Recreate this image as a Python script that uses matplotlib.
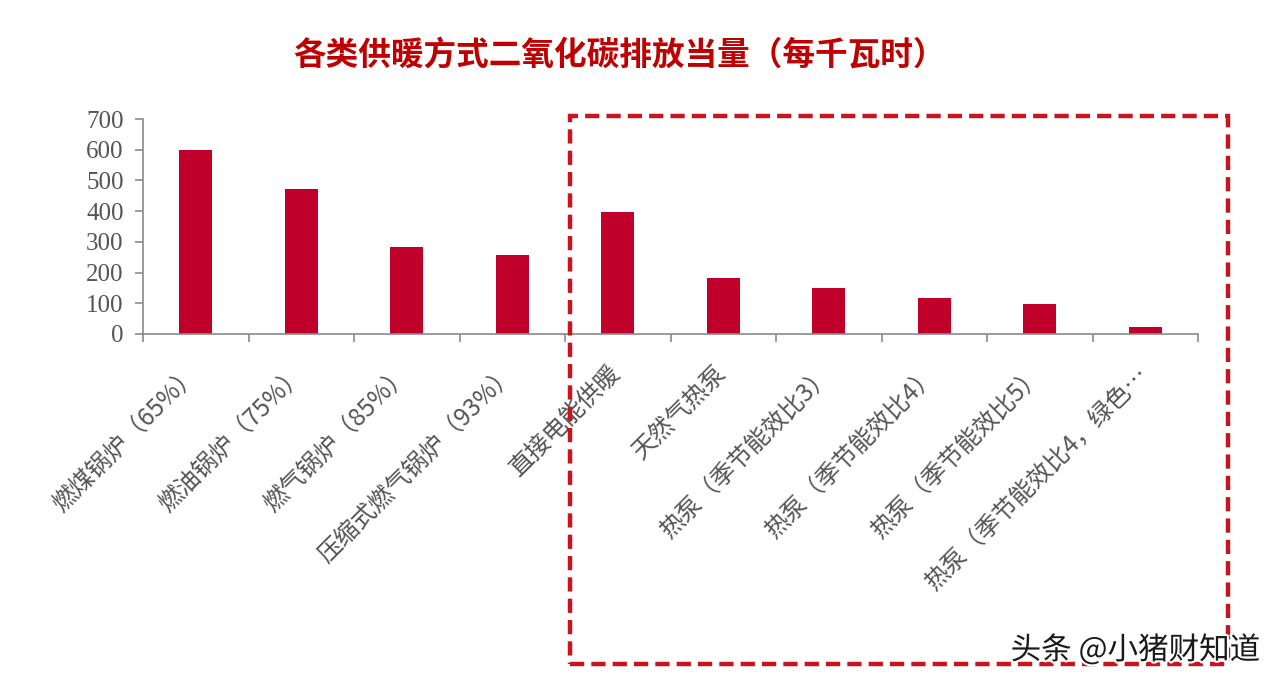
import numpy as np
import matplotlib.pyplot as plt
from matplotlib.patches import Rectangle
import matplotlib.patheffects as pe

plt.rcParams['font.family'] = ['Noto Sans CJK SC', 'DejaVu Sans']

title = '各类供暖方式二氧化碳排放当量（每千瓦时）'
categories = ['燃煤锅炉（65%）', '燃油锅炉（75%）', '燃气锅炉（85%）', '压缩式燃气锅炉（93%）',
              '直接电能供暖', '天然气热泵', '热泵（季节能效比3）', '热泵（季节能效比4）',
              '热泵（季节能效比5）', '热泵（季节能效比4，绿色…']
values = [600, 473, 283, 257, 398, 183, 151, 118, 98, 22]
yticks = [0, 100, 200, 300, 400, 500, 600, 700]
watermark = '头条 @小猪财知道'

bar_color = '#c0002a'
axis_color = '#8a8a8a'
text_color = '#555555'

fig = plt.figure(figsize=(12.8, 6.84), dpi=100)
ax = fig.add_axes([143 / 1280, 350 / 684, 1055 / 1280, 215 / 684])

x = np.arange(len(categories))
ax.bar(x, values, width=0.31, color=bar_color, zorder=2)
ax.set_xlim(-0.5, len(categories) - 0.5)
ax.set_ylim(0, 700)

for side in ['top', 'right']:
    ax.spines[side].set_visible(False)
for side in ['left', 'bottom']:
    ax.spines[side].set_color(axis_color)
    ax.spines[side].set_linewidth(1.2)

ax.set_yticks(yticks)
ax.set_yticklabels([str(v) for v in yticks], family='Liberation Serif', fontsize=18, color=text_color)
ax.tick_params(axis='y', direction='out', length=6, width=1.2, color=axis_color, pad=8)

ax.set_xticks(x)
ax.set_xticklabels(categories, rotation=45, ha='right', va='center', rotation_mode='anchor',
                   fontsize=17.5, color=text_color)
ax.tick_params(axis='x', which='major', length=0, pad=26)
ax.set_xticks(np.arange(-0.5, len(categories), 1), minor=True)
ax.tick_params(axis='x', which='minor', direction='out', length=6, width=1.2, color=axis_color)

fig.text(620 / 1280, 1 - 55 / 684, title, ha='center', va='center', fontsize=23.5,
         fontweight='bold', color='#c00000')

# dashed highlight box
box = Rectangle((570 / 1280, 1 - 664 / 684), 658 / 1280, 548 / 684, transform=fig.transFigure,
                fill=False, edgecolor='#c8141e', linewidth=3.2, linestyle=(0, (3.2, 1.6)), zorder=5)
fig.patches.append(box)

fig.text(1260 / 1280, 1 - 650 / 684, watermark, ha='right', va='center', fontsize=22,
         color='#1a1a1a', path_effects=[pe.withStroke(linewidth=3, foreground='white')], zorder=6)

fig.savefig('out.png', dpi=100, facecolor='white')
